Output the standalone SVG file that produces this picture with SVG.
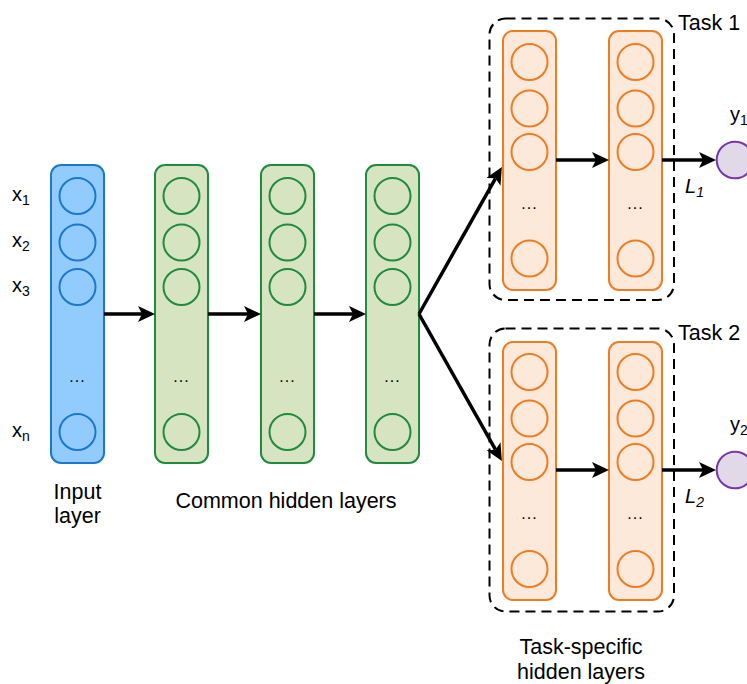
<svg xmlns="http://www.w3.org/2000/svg" width="747" height="684" viewBox="0 0 747 684">
<style>
text{font-family:"Liberation Sans",Arial,sans-serif;fill:#000}
.lbl{font-size:21.5px}
.var{font-size:20px}
.sub{font-size:14px}
.dots{font-size:16px;text-anchor:middle;letter-spacing:1px}
.inbox{fill:#92CCFF;stroke:#1B78CC;stroke-width:2}
.incirc{fill:none;stroke:#1B78CC;stroke-width:2}
.gbox{fill:#D6E4C2;stroke:#1E8B3E;stroke-width:2}
.gcirc{fill:none;stroke:#1E8B3E;stroke-width:2}
.obox{fill:#FCE9DA;stroke:#F07C22;stroke-width:2}
.ocirc{fill:none;stroke:#F07C22;stroke-width:2}
.task{fill:none;stroke:#000;stroke-width:2;stroke-dasharray:10 6}
.out{fill:#E1D8E8;stroke:#7A35AE;stroke-width:2}
.arr{fill:none;stroke:#000;stroke-width:3.5;marker-end:url(#ah)}
</style>
<defs>
<marker id="ah" markerUnits="userSpaceOnUse" markerWidth="19" markerHeight="17" refX="4" refY="8" orient="auto">
<path d="M0,0 L17,8 L0,16 L4,8 z" fill="#000"/>
</marker>
</defs>

<g id="input-labels">
<text class="var" x="12" y="201">x<tspan class="sub" dy="4">1</tspan></text>
<text class="var" x="12" y="247">x<tspan class="sub" dy="4">2</tspan></text>
<text class="var" x="12" y="292">x<tspan class="sub" dy="4">3</tspan></text>
<text class="var" x="12" y="437">x<tspan class="sub" dy="4">n</tspan></text>
</g>

<g id="input-layer">
<rect class="inbox" x="51" y="165" width="53" height="298" rx="10"/>
<circle class="incirc" cx="77.5" cy="196" r="18"/>
<circle class="incirc" cx="77.5" cy="242.5" r="18"/>
<circle class="incirc" cx="77.5" cy="287" r="18"/>
<circle class="incirc" cx="77.5" cy="432" r="18"/>
<text class="dots" x="77.5" y="382">...</text>
</g>

<g id="hidden-1">
<rect class="gbox" x="155" y="165" width="53" height="298" rx="10"/>
<circle class="gcirc" cx="181.5" cy="196" r="18"/>
<circle class="gcirc" cx="181.5" cy="242.5" r="18"/>
<circle class="gcirc" cx="181.5" cy="287" r="18"/>
<circle class="gcirc" cx="181.5" cy="432" r="18"/>
<text class="dots" x="181.5" y="382">...</text>
</g>

<g id="hidden-2">
<rect class="gbox" x="261" y="165" width="53" height="298" rx="10"/>
<circle class="gcirc" cx="287.5" cy="196" r="18"/>
<circle class="gcirc" cx="287.5" cy="242.5" r="18"/>
<circle class="gcirc" cx="287.5" cy="287" r="18"/>
<circle class="gcirc" cx="287.5" cy="432" r="18"/>
<text class="dots" x="287.5" y="382">...</text>
</g>

<g id="hidden-3">
<rect class="gbox" x="366" y="165" width="53" height="298" rx="10"/>
<circle class="gcirc" cx="392.5" cy="196" r="18"/>
<circle class="gcirc" cx="392.5" cy="242.5" r="18"/>
<circle class="gcirc" cx="392.5" cy="287" r="18"/>
<circle class="gcirc" cx="392.5" cy="432" r="18"/>
<text class="dots" x="392.5" y="382">...</text>
</g>

<g id="task1">
<rect class="task" x="489.5" y="18.5" width="184.5" height="281.5" rx="16"/>
<text class="lbl" x="678" y="30">Task 1</text>
</g>
<g id="task1-layer1">
<rect class="obox" x="503" y="31" width="53" height="259" rx="10"/>
<circle class="ocirc" cx="529.5" cy="62" r="18"/>
<circle class="ocirc" cx="529.5" cy="108.5" r="18"/>
<circle class="ocirc" cx="529.5" cy="152" r="18"/>
<circle class="ocirc" cx="529.5" cy="258.5" r="18"/>
<text class="dots" x="529.5" y="208.5">...</text>
</g>
<g id="task1-layer2">
<rect class="obox" x="609" y="31" width="53" height="259" rx="10"/>
<circle class="ocirc" cx="635.5" cy="62" r="18"/>
<circle class="ocirc" cx="635.5" cy="108.5" r="18"/>
<circle class="ocirc" cx="635.5" cy="152" r="18"/>
<circle class="ocirc" cx="635.5" cy="258.5" r="18"/>
<text class="dots" x="635.5" y="208.5">...</text>
</g>
<g id="y1">
<circle class="out" cx="735" cy="160" r="18.3"/>
<text class="var" x="730" y="121">y<tspan class="sub" dy="4">1</tspan></text>
</g>

<g id="task2">
<rect class="task" x="489.5" y="328.5" width="184.5" height="283" rx="16"/>
<text class="lbl" x="678" y="340">Task 2</text>
</g>
<g id="task2-layer1">
<rect class="obox" x="503" y="342" width="53" height="258" rx="10"/>
<circle class="ocirc" cx="529.5" cy="372" r="18"/>
<circle class="ocirc" cx="529.5" cy="418.5" r="18"/>
<circle class="ocirc" cx="529.5" cy="462" r="18"/>
<circle class="ocirc" cx="529.5" cy="569" r="18"/>
<text class="dots" x="529.5" y="518.5">...</text>
</g>
<g id="task2-layer2">
<rect class="obox" x="609" y="342" width="53" height="258" rx="10"/>
<circle class="ocirc" cx="635.5" cy="372" r="18"/>
<circle class="ocirc" cx="635.5" cy="418.5" r="18"/>
<circle class="ocirc" cx="635.5" cy="462" r="18"/>
<circle class="ocirc" cx="635.5" cy="569" r="18"/>
<text class="dots" x="635.5" y="518.5">...</text>
</g>
<g id="y2">
<circle class="out" cx="735" cy="470" r="18.3"/>
<text class="var" x="730" y="431">y<tspan class="sub" dy="4">2</tspan></text>
</g>

<g id="connectors">
<line class="arr" x1="104" y1="314" x2="142" y2="314"/>
<line class="arr" x1="208" y1="314" x2="248" y2="314"/>
<line class="arr" x1="314" y1="314" x2="353" y2="314"/>
<line class="arr" x1="419" y1="314" x2="495.5" y2="178.3"/>
<line class="arr" x1="419" y1="314" x2="495.5" y2="449.7"/>
<line class="arr" x1="556" y1="160" x2="596" y2="160"/>
<line class="arr" x1="662" y1="160" x2="703" y2="160"/>
<line class="arr" x1="556" y1="470" x2="596" y2="470"/>
<line class="arr" x1="662" y1="470" x2="703" y2="470"/>
</g>

<g id="labels">
<text class="lbl" x="77.5" y="499" text-anchor="middle">Input</text>
<text class="lbl" x="77.5" y="523" text-anchor="middle">layer</text>
<text class="lbl" x="286" y="508" text-anchor="middle">Common hidden layers</text>
<text class="lbl" x="581" y="654" text-anchor="middle">Task-specific</text>
<text class="lbl" x="581" y="679" text-anchor="middle">hidden layers</text>
<text class="var" x="685" y="193" font-style="italic">L<tspan class="sub" dy="4">1</tspan></text>
<text class="var" x="685" y="503" font-style="italic">L<tspan class="sub" dy="4">2</tspan></text>
</g>
</svg>
